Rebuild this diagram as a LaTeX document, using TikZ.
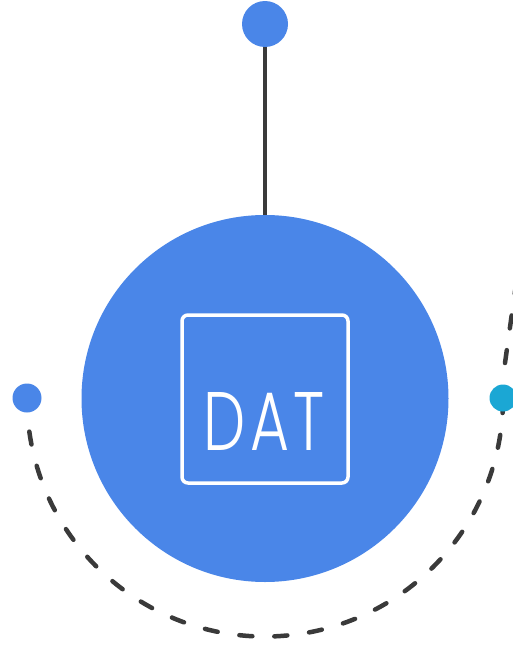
\documentclass[tikz,border=0pt]{standalone}
\usepackage{fontspec}
\newfontfamily\datfont{Poppins Light}[LetterSpace=8]
\definecolor{mainblue}{RGB}{74,134,232}
\definecolor{dotcyan}{RGB}{27,167,212}
\definecolor{darkline}{RGB}{58,58,58}
\begin{document}
\begin{tikzpicture}[x=1pt,y=-1pt,
  dot/.style={circle,fill=mainblue,inner sep=0pt},
  dashring/.style={draw=darkline,line width=4.5pt,line cap=round,dash pattern=on 13pt off 22pt},
  stem/.style={draw=darkline,line width=4pt}]
\useasboundingbox (0,0) rectangle (512,645);
\node[dot,minimum size=46pt] (topdot) at (265,24) {};
\node[circle,fill=mainblue,inner sep=0pt,minimum size=367pt] (main) at (265,398.5) {};
\draw[stem] (topdot.south) -- (main.north);
\draw[dashring] (265,398.5) ++(172:238) arc[start angle=172,end angle=-2,radius=238];
\coordinate (upstart) at (505,363);
\coordinate (upend) at (518,270);
\draw[dashring] (upstart) -- (upend);
\node[dot,minimum size=29pt] (leftdot) at (27,398) {};
\node[dot,fill=dotcyan,minimum size=27pt] (rightdot) at (503,398) {};
\node[draw=white,line width=3.5pt,rounded corners=6pt,minimum width=166pt,minimum height=168pt,inner sep=0pt] (box) at (265,399) {};
\node[text=white,inner sep=0pt,anchor=base west,xscale=0.72,font=\datfont\fontsize{83}{83}\selectfont] (dat) at (203,450) {DAT};
\end{tikzpicture}
\end{document}
